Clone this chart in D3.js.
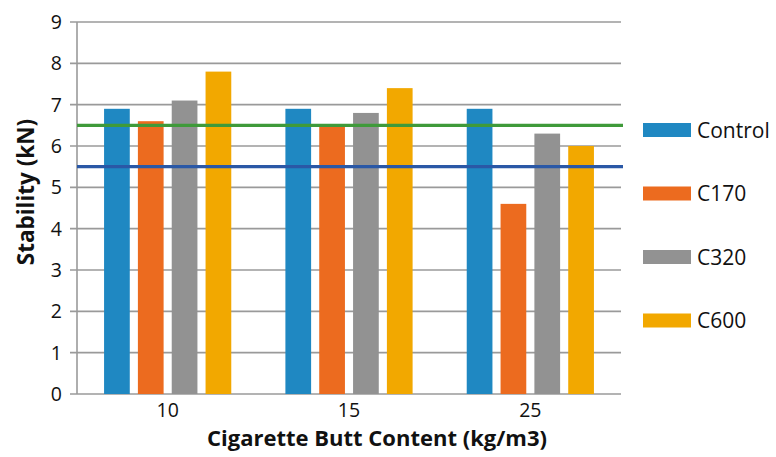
<!DOCTYPE html>
<html>
<head>
<meta charset="utf-8">
<script src="https://cdn.jsdelivr.net/npm/d3@7"></script>
<style>
  body { margin: 0; background: #fff; }
  svg { font-family: "Open Sans", sans-serif; }
</style>
</head>
<body>
<div id="chart"></div>
<script>
// chart data
const categories = ["10", "15", "25"];
const seriesNames = ["Control", "C170", "C320", "C600"];
const seriesColors = ["#1f88c2", "#ec6b1f", "#929292", "#f2a800"];
const controlValues = [6.9, 6.9, 6.9];
const c170Values = [6.6, 6.5, 4.6];
const c320Values = [7.1, 6.8, 6.3];
const c600Values = [7.8, 7.4, 6.0];
const yTicks = [0, 1, 2, 3, 4, 5, 6, 7, 8, 9];
const refLines = [{ value: 6.5, color: "#3f9a3a" }, { value: 5.5, color: "#2a58a6" }];

const seriesValues = [controlValues, c170Values, c320Values, c600Values];

const width = 776;
const height = 457;
const margin = { top: 22, right: 155, bottom: 63, left: 77 };
const plotW = width - margin.left - margin.right;
const plotH = height - margin.top - margin.bottom;

const svg = d3.select("#chart").append("svg")
    .attr("width", width)
    .attr("height", height);

const g = svg.append("g")
    .attr("transform", `translate(${margin.left},${margin.top})`);

const x0 = d3.scaleBand().domain(categories).range([0, plotW]).padding(0);
const x1 = d3.scaleBand().domain(seriesNames).range([0, x0.bandwidth()])
    .paddingInner(0.24).paddingOuter(0.8);
const y = d3.scaleLinear().domain([0, 9]).range([plotH, 0]);

// gridlines
g.append("g")
  .selectAll("line")
  .data(yTicks)
  .join("line")
    .attr("x1", -7)
    .attr("x2", plotW)
    .attr("y1", d => y(d))
    .attr("y2", d => y(d))
    .attr("stroke", "#9a9a9a")
    .attr("stroke-width", 1.6);

// y axis line
g.append("line")
    .attr("x1", 0).attr("x2", 0)
    .attr("y1", 0).attr("y2", plotH)
    .attr("stroke", "#9a9a9a")
    .attr("stroke-width", 1.6);

// y tick labels
g.append("g")
  .selectAll("text")
  .data(yTicks)
  .join("text")
    .attr("x", -15)
    .attr("y", d => y(d))
    .attr("dy", "0.36em")
    .attr("text-anchor", "end")
    .attr("font-size", 19.5)
    .attr("fill", "#111")
    .text(d => d);

// bars
const rows = categories.map((c, i) => ({
  cat: c,
  vals: seriesNames.map((s, j) => ({ name: s, value: seriesValues[j][i], color: seriesColors[j] }))
}));

g.append("g")
  .selectAll("g")
  .data(rows)
  .join("g")
    .attr("transform", d => `translate(${x0(d.cat)},0)`)
  .selectAll("rect")
  .data(d => d.vals)
  .join("rect")
    .attr("x", d => x1(d.name))
    .attr("y", d => y(d.value))
    .attr("width", x1.bandwidth())
    .attr("height", d => plotH - y(d.value))
    .attr("fill", d => d.color);

// reference lines
g.append("g")
  .selectAll("line")
  .data(refLines)
  .join("line")
    .attr("x1", 0)
    .attr("x2", plotW + 2)
    .attr("y1", d => y(d.value))
    .attr("y2", d => y(d.value))
    .attr("stroke", d => d.color)
    .attr("stroke-width", 3.2);

// x tick labels
g.append("g")
  .selectAll("text")
  .data(categories)
  .join("text")
    .attr("x", d => x0(d) + x0.bandwidth() / 2)
    .attr("y", plotH + 23)
    .attr("text-anchor", "middle")
    .attr("font-size", 19.5)
    .attr("fill", "#111")
    .text(d => d);

// axis titles
svg.append("text")
    .attr("x", 377)
    .attr("y", 446)
    .attr("text-anchor", "middle")
    .attr("font-size", 22)
    .attr("font-weight", "bold")
    .attr("fill", "#111")
    .text("Cigarette Butt Content (kg/m3)");

svg.append("text")
    .attr("transform", "translate(34,192) rotate(-90)")
    .attr("text-anchor", "middle")
    .attr("font-size", 22.5)
    .attr("font-weight", "bold")
    .attr("fill", "#111")
    .text("Stability (kN)");

// legend
const legend = svg.append("g")
  .selectAll("g")
  .data(seriesNames)
  .join("g")
    .attr("transform", (d, i) => `translate(643,${130 + i * 63.5})`);

legend.append("rect")
    .attr("x", 0)
    .attr("y", -7)
    .attr("width", 48)
    .attr("height", 14)
    .attr("fill", (d, i) => seriesColors[i]);

legend.append("text")
    .attr("x", 54)
    .attr("y", 0)
    .attr("dy", "0.36em")
    .attr("font-size", 21)
    .attr("fill", "#111")
    .text(d => d);
</script>
</body>
</html>
